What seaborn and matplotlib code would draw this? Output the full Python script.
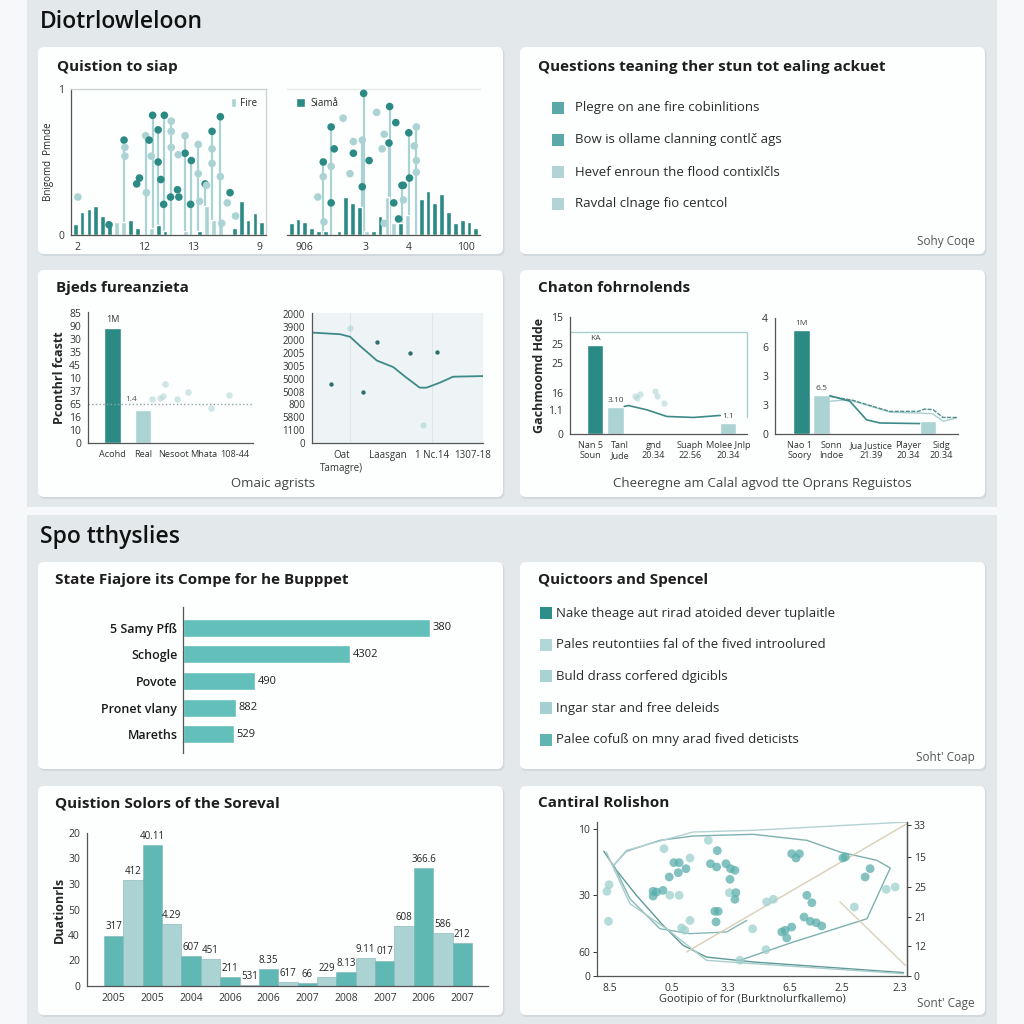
import numpy as np
import pandas as pd
import seaborn as sns
import matplotlib.pyplot as plt
from matplotlib.patches import FancyBboxPatch, Rectangle

sns.set_style("white")
plt.rcParams['font.family'] = ['Open Sans', 'DejaVu Sans']

W = H = 1024
DARK = '#2b8a84'
MID = '#5fb8b4'
LIGHT = '#acd3d4'
INK = '#1e1e1e'
TONES = {'d': DARK, 'l': LIGHT}

# ---------------- data ----------------
# panel 1 : bars + lollipops (left / right)
p1_left_bars = [0.075, 0.16, 0.18, 0.2, 0.13, 0.08, 0.09, 0.09, 0.10, 0.045, 0.0, 0.05, 0.07, 0.03,
                0.0, 0.0, 0.03, 0.0, 0.03, 0.20, 0.10, 0.08, 0.0, 0.045, 0.23, 0.10, 0.15, 0.09]
p1_left_tone = list('ddddddlldddlddddlddllldddddd')
p1_left_stem_x = [7.07, 10.2, 11.2, 12.0, 12.9, 13.9, 15.9, 16.8, 17.8, 18.8, 19.8, 21.0]
p1_left_stem_y = [0.65, 0.68, 0.82, 0.72, 0.82, 0.78, 0.68, 0.51, 0.62, 0.35, 0.71, 0.81]
p1_left_stem_tone = list('dldddlldldd') + ['d']
p1_left_dot_x = [0.4, 4.9, 8.9, 9.3, 10.3, 10.7, 12.0, 12.4, 12.8, 13.8, 14.8, 15.0, 15.9, 16.7, 22.4,
                 22.0, 23.2, 7.2, 7.2, 14.9, 19.0, 19.8, 19.8, 21.0, 11.0, 21.2, 13.9, 13.9, 17.8, 18.0]
p1_left_dot_y = [0.26, 0.07, 0.35, 0.39, 0.29, 0.65, 0.50, 0.38, 0.21, 0.26, 0.31, 0.26, 0.56, 0.21, 0.29,
                 0.22, 0.13, 0.60, 0.54, 0.55, 0.34, 0.59, 0.49, 0.40, 0.54, 0.08, 0.71, 0.60, 0.42, 0.23]
p1_left_dot_tone = list('ldddlddddddddddll') + list('lllllllllllll')
p1_left_ticks = ['2', '12', '13', '9']

p1_right_bars = [0.08, 0.11, 0.09, 0.05, 0.03, 0.03, 0.0, 0.03, 0.26, 0.22, 0.19, 0.03, 0.03, 0.13,
                 0.26, 0.08, 0.08, 0.14, 0.0, 0.25, 0.30, 0.22, 0.28, 0.16, 0.08, 0.10, 0.09, 0.05]
p1_right_tone = list('dddddddddddlddlldldddddddddd')
p1_right_stem_x = [4.7, 5.85, 10.6, 14.4, 17.2, 18.3, 14.3, 16.2, 10.4]
p1_right_stem_y = [0.50, 0.74, 0.97, 0.88, 0.70, 0.74, 0.63, 0.34, 0.65]
p1_right_stem_tone = list('dddddlddl')
p1_right_dot_x = [6.3, 5.85, 9.1, 11.4, 10.4, 15.3, 17.3, 15.7, 15.0, 16.4, 3.9, 7.6, 12.5, 13.6, 13.3,
                  8.6, 4.7, 5.85, 18.0, 18.3, 18.3, 13.6, 4.8, 9.1, 16.4]
p1_right_dot_y = [0.59, 0.22, 0.56, 0.51, 0.33, 0.77, 0.39, 0.11, 0.22, 0.34, 0.26, 0.80, 0.84, 0.69, 0.59,
                  0.42, 0.40, 0.47, 0.61, 0.51, 0.43, 0.08, 0.09, 0.64, 0.24]
p1_right_dot_tone = list('dddddddddd') + list('lllllllllllllll')
p1_right_ticks = ['906', '3', '4', '100']

# panel 2 : list
p2_items = ['Plegre on ane fire cobinlitions', 'Bow is ollame clanning contlč ags',
            'Hevef enroun the flood contixlčls', 'Ravdal clnage fio centcol']
p2_colors = ['#5aa8a7', '#5aa8a7', '#b3d4d6', '#b3d4d6']

# panel 3 : bar + line
p3_cats = ['Acohd', 'Real', 'Nesoot', 'Mhata', '108-44']
p3_vals = [8.87, 2.56, 0, 0, 0]
p3_ytick_labels = ['0', '10', '16', '65', '37', '10', '45', '35', '30', '90', '85']
p3_faint_x = [1.72, 1.56, 2.1, 2.48, 3.22, 3.8, 1.29, 1.65]
p3_faint_y = [4.56, 3.5, 3.4, 3.9, 2.7, 3.7, 3.4, 3.6]
p3_line_x = [0, 1.65, 2.23, 2.8, 3.8, 4.75, 5.5, 6.3, 6.7, 7.5, 8.25, 10]
p3_line_y = [8.58, 8.45, 8.25, 7.55, 6.4, 5.9, 5.1, 4.3, 4.3, 4.7, 5.15, 5.2]
p3_dot_x = [1.13, 2.97, 3.83, 5.73, 7.3]
p3_dot_y = [4.6, 4.0, 7.86, 7.0, 7.1]
p3_ytick2_labels = ['0', '1100', '5800', '800', '5008', '5000', '3005', '2005', '2000', '3900', '2000']
p3_xtick2_labels = ['Oat\nTamagre)', 'Laasgan', '1 Nc.14', '1307-18']

# panel 4 : bars + lines
p4a_bar_x = [1.42, 2.58, 8.92]
p4a_bar_y = [11.4, 3.44, 1.4]
p4a_bar_lab = ['KA', '3.10', '1.1']
p4a_line_x = [3.06, 3.3, 4.34, 5.47, 6.98, 8.49]
p4a_line_y = [3.53, 3.65, 3.1, 2.25, 2.12, 2.38]
p4a_faint_x = [3.68, 3.96, 4.8, 4.9, 5.3, 3.8]
p4a_faint_y = [4.9, 5.1, 5.55, 4.9, 4.0, 4.6]
p4a_xlabels = ['Nan 5\nSoun', 'Tanl\nJude', 'gnd\n20.34', 'Suaph\n22.56', 'Molee Jnlp\n20.34']
p4a_ytick_labels = ['0', '1.1', '16', '25', '25', '15']

p4b_bar_x = [1.45, 2.55, 8.36]
p4b_bar_y = [3.6, 1.36, 0.44]
p4b_bar_lab = ['1M', '6.5', '']
p4b_line1_x = [3.0, 4.09, 5.0, 5.73, 7.9]
p4b_line1_y = [1.32, 1.13, 0.49, 0.38, 0.36]
p4b_line2_x = [3.0, 4.27, 5.36, 6.27, 7.82, 8.18, 8.64, 9.18, 10]
p4b_line2_y = [1.3, 1.16, 0.95, 0.78, 0.78, 0.86, 0.84, 0.57, 0.57]
p4b_line3_x = [3.0, 4.0, 5.0, 6.3, 7.9, 8.6, 9.2, 9.9]
p4b_line3_y = [1.13, 1.18, 1.0, 0.75, 0.72, 0.70, 0.44, 0.55]
p4b_xlabels = ['Nao 1\nSoory', 'Sonn\nIndoe', 'Jua Justice\n21.39', 'Player\n20.34', 'Sidg\n20.34']
p4b_ytick_labels = ['0', '3', '3', '6', '4']

# panel 5 : horizontal bars
p5_names = ['5 Samy Pfß', 'Schogle', 'Povote', 'Pronet vlany', 'Mareths']
p5_vals = [380, 257, 111, 82, 78]
p5_labels = ['380', '4302', '490', '882', '529']

# panel 6 : list
p6_items = ['Nake theage aut rirad atoided dever tuplaitle', 'Pales reutontiies fal of the fived introolured',
            'Buld drass corfered dgicibls', 'Ingar star and free deleids', 'Palee cofuß on mny arad fived deticists']
p6_colors = ['#2e8f8a', '#b3d6d8', '#a9d2d2', '#a5cfd0', '#5fb5b2']

# panel 7 : column bars
p7_vals = [1.98, 4.17, 5.53, 2.42, 1.19, 1.06, 0.34, 0.04, 0.67, 0.14, 0.12, 0.34, 0.56, 1.11, 1.0,
           2.36, 4.63, 2.06, 1.69]
p7_labels = ['317', '412', '40.11', '4.29', '607', '451', '211', '531', '8.35', '617', '66', '229',
             '8.13', '9.11', '017', '608', '366.6', '586', '212']
p7_years = ['2005', '2005', '2004', '2006', '2006', '2007', '2008', '2007', '2006', '2007']
p7_ytick_labels = ['0', '20', '40', '50', '30', '30', '20']

# panel 8 : scatter with outlines
p8_x = [3.9, 3.2, 3.7, 21.6, 24.8, 26.5, 28.7, 30.0, 23.3, 26.2, 18.1, 18.1, 19.2, 21.3, 23.5, 26.5, 27.3,
        28.3, 30.0, 35.9, 38.8, 36.6, 38.6, 41.6, 43.1, 44.5, 42.9, 42.7, 44.5, 44.8, 38.0, 38.4, 39.1,
        50.2, 54.7, 56.9, 62.8, 65.3, 64.2, 67.7, 69.3, 66.8, 68.8, 70.7, 72.5, 60.7, 62.8, 61.2, 59.6,
        79.3, 80.1, 83.0, 86.5, 88.1, 93.3, 96.2, 46.1, 54.5]
p8_y = [59.3, 55.0, 35.5, 82.7, 73.6, 73.6, 69.7, 76.6, 64.3, 67.1, 55.0, 51.9, 54.5, 55.6, 52.4, 52.4, 31.2,
        29.7, 36.1, 88.1, 81.4, 72.9, 70.8, 72.9, 69.7, 68.6, 62.8, 54.1, 49.8, 54.1, 42.0, 35.1, 42.0,
        30.7, 48.1, 49.8, 79.4, 79.4, 76.6, 52.4, 47.6, 38.3, 35.5, 34.6, 32.5, 29.7, 31.8, 24.7, 28.6,
        76.6, 77.3, 44.8, 64.3, 69.7, 56.3, 57.8, 10.2, 17.1]
p8_tone = list('lll' 'ldddlddddddlll' 'llldddddddlddddd' 'lll' 'ddddddddddddd' 'ddlddll' 'll')
p8_lines = {
    '#5e9a98': ([2.2, 6.3, 12.7, 21.3, 27.8, 35.3, 50.4, 98.9], [81, 68.6, 52.4, 32.9, 19.9, 12.3, 9.1, 2.2]),
    '#7fb0b0': ([5.4, 9.5, 20.3, 31, 50.4, 67.7, 78.4, 90.3, 94.6, 87.1, 63.4, 46.1],
                [71.9, 81, 88.1, 90.9, 92, 88.1, 80.5, 75.1, 70.1, 37.2, 22.1, 10.2]),
    '#86b8b6': ([5.4, 10.6, 20.3, 30, 41.8, 48.3], [71.9, 50.2, 30.7, 27.5, 28.6, 36.1]),
    '#b5d2d2': ([5.4, 9.5, 31, 50.4, 100], [71.9, 81.6, 93.5, 94.6, 100]),
    '#a9cccb': ([3, 10.6, 22.4, 35.3, 50.4, 98.9], [80.5, 47, 30.7, 10.2, 8, 1.5]),
    '#d8cfb5': ([28.9, 100], [15.6, 98.9]),
    '#d9d1ba': ([78.4, 99.5], [48.1, 6.9]),
}

# ---------------- figure ----------------
fig = plt.figure(figsize=(10.24, 10.24), dpi=100, facecolor='#f6f8f9')


def fbox(x0, y0, x1, y1, fc, r=6, z=-3):
    p = FancyBboxPatch((x0 / W, 1 - y1 / H), (x1 - x0) / W, (y1 - y0) / H,
                       boxstyle=f"round,pad=0,rounding_size={r / W}", transform=fig.transFigure,
                       fc=fc, ec='none', zorder=z)
    fig.patches.append(p)


def ftext(x, y, s, **kw):
    kw.setdefault('va', 'center')
    fig.text(x / W, 1 - y / H, s, **kw)


def add_ax(x0, y0, x1, y1):
    ax = fig.add_axes([x0 / W, 1 - y1 / H, (x1 - x0) / W, (y1 - y0) / H])
    ax.set_facecolor('none')
    return ax


def style(ax, left=True, bottom=True, top=False, right=False, size=7.5):
    for s, v in zip(['left', 'bottom', 'top', 'right'], [left, bottom, top, right]):
        ax.spines[s].set_visible(v)
        ax.spines[s].set_color('#555555')
        ax.spines[s].set_linewidth(0.9)
    ax.tick_params(labelsize=size, colors='#333333', length=3, width=0.7, pad=2)


fbox(27, 0, 997, 507, '#e3e9eb', r=0, z=-5)
fbox(27, 515, 997, 1024, '#e3e9eb', r=0, z=-5)
panels = [(38, 47, 503, 254), (520, 47, 985, 254), (38, 270, 503, 497), (520, 270, 985, 497),
          (38, 562, 503, 769), (520, 562, 985, 769), (38, 786, 503, 1015), (520, 786, 985, 1015)]
for (x0, y0, x1, y1) in panels:
    fbox(x0 + 1, y0 + 1, x1 + 1.5, y1 + 2, '#d2d9dc', z=-4)
    fbox(x0, y0, x1, y1, '#fdfefe', z=-3)

ftext(40, 22, 'Diotrlowleloon', fontsize=16.5, fontweight='semibold', color='#111111')
ftext(40, 537, 'Spo tthyslies', fontsize=16.5, fontweight='semibold', color='#111111')
TSIZE = 11

# ---- panel 1
ftext(57, 67, 'Quistion to siap', fontsize=TSIZE, fontweight='bold', color=INK)
slots = np.arange(28)
for (x0, x1, bars, tone, sx, sy, st, dx, dy, dt, tpos, tlab) in [
        (71, 266, p1_left_bars, p1_left_tone, p1_left_stem_x, p1_left_stem_y, p1_left_stem_tone,
         p1_left_dot_x, p1_left_dot_y, p1_left_dot_tone, [0.4, 10, 17.1, 26.6], p1_left_ticks),
        (287, 480, p1_right_bars, p1_right_tone, p1_right_stem_x, p1_right_stem_y, p1_right_stem_tone,
         p1_right_dot_x, p1_right_dot_y, p1_right_dot_tone, [1.9, 10.8, 17.2, 25.5], p1_right_ticks)]:
    ax = add_ax(x0, 89, x1, 235)
    df = pd.DataFrame({'slot': slots, 'h': bars, 'tone': tone})
    sns.barplot(data=df, x='slot', y='h', hue='tone', palette=TONES, dodge=False, width=0.7,
                saturation=1, legend=False, ax=ax, zorder=2)
    ax.vlines(sx, 0, sy, color=LIGHT, lw=1.6, zorder=1)
    sns.scatterplot(x=sx, y=sy, hue=st, palette=TONES, s=30, linewidth=0, legend=False, ax=ax, zorder=3)
    sns.scatterplot(x=dx, y=dy, hue=dt, palette=TONES, s=30, linewidth=0, legend=False, ax=ax, zorder=3)
    ax.set_xlim(-0.6, 27.6)
    ax.set_ylim(0, 1.0)
    ax.set_xticks(tpos, tlab)
    ax.set_xlabel('')
    ax.set_ylabel('')
    if x0 < 200:
        style(ax, top=True, right=True)
        ax.spines['top'].set_color('#c9d1d3')
        ax.spines['right'].set_color('#c9d1d3')
        ax.set_yticks([0, 0.33, 0.67, 1], ['0', '', '', '1'])
        ax.set_ylabel('Bnigomd  Pmnde', fontsize=7, labelpad=3)
        ax.legend(handles=[Rectangle((0, 0), 1, 1, fc=LIGHT)], labels=['Fire'], loc='upper right',
                  frameon=False, fontsize=7, handlelength=0.5, handleheight=1.0, handletextpad=0.4)
    else:
        style(ax, left=False, top=True)
        ax.spines['top'].set_color('#e3e8ea')
        ax.set_yticks([])
        ax.legend(handles=[Rectangle((0, 0), 1, 1, fc=DARK)], labels=['Siamå'], loc='upper left',
                  frameon=False, fontsize=7, handlelength=1.0, handleheight=1.0, handletextpad=0.5)

# ---- panel 2
ftext(538, 67, 'Questions teaning ther stun tot ealing ackuet', fontsize=TSIZE, fontweight='bold', color=INK)
for i, (txt, c) in enumerate(zip(p2_items, p2_colors)):
    y = 108 + i * 32
    fig.patches.append(Rectangle((552 / W, 1 - (y + 6) / H), 12 / W, 12 / H, transform=fig.transFigure,
                                 fc=c, ec='none'))
    ftext(575, y, txt, fontsize=9.5, color='#2a2a2a')
ftext(975, 242, 'Sohy Coqe', fontsize=8.5, color='#555555', ha='right')

# ---- panel 3
ftext(56, 288, 'Bjeds fureanzieta', fontsize=TSIZE, fontweight='bold', color=INK)
ax = add_ax(88, 312, 253, 443)
sns.barplot(x=p3_cats, y=p3_vals, hue=p3_cats, palette=[DARK, LIGHT, LIGHT, LIGHT, LIGHT],
            width=0.55, saturation=1, legend=False, ax=ax, zorder=2)
ax.axhline(3.0, ls=':', color='#8fa5a8', lw=1)
sns.scatterplot(x=p3_faint_x, y=p3_faint_y, color=LIGHT, alpha=0.55, s=22, linewidth=0, ax=ax)
ax.text(0, 9.15, '1M', ha='center', va='bottom', fontsize=6.5, color='#333')
ax.text(0.6, 3.05, '1.4', ha='center', va='bottom', fontsize=6, color='#555')
ax.set_xlim(-0.8, 4.6)
ax.set_ylim(0, 10.1)
ax.set_yticks(range(11), p3_ytick_labels)
ax.set_xticks(np.arange(-0.5, 4.6, 0.5), minor=True)
ax.set_ylabel('Pconthrl fcastt', fontsize=9, fontweight='bold', labelpad=2)
style(ax)
ax.tick_params(axis='x', labelsize=6.6)
ax.tick_params(which='minor', length=3, width=0.6, colors='#555555')

ax = add_ax(312, 313, 483, 443)
ax.set_facecolor('#eef4f6')
for gx in [2.23, 7.0]:
    ax.axvline(gx, color='#dde7ea', lw=0.8, zorder=0)
sns.lineplot(x=p3_line_x, y=p3_line_y, color='#3d8a88', lw=1.3, ax=ax)
sns.scatterplot(x=p3_dot_x, y=p3_dot_y, color='#2c6f6c', s=10, linewidth=0, ax=ax, zorder=3)
sns.scatterplot(x=[2.23, 6.5], y=[8.97, 1.37], color=LIGHT, alpha=0.6, s=20, linewidth=0, ax=ax)
ax.set_xlim(0, 10)
ax.set_ylim(0, 10.1)
ax.set_yticks(range(11), p3_ytick2_labels)
ax.set_xticks([1.75, 4.45, 7.0, 9.4], p3_xtick2_labels)
ax.set_xticks(np.arange(0.5, 10, 0.8), minor=True)
style(ax, size=7)
ax.tick_params(which='minor', length=3, width=0.6, colors='#555555')
ftext(273, 483, 'Omaic agrists', fontsize=9.5, color='#444444', ha='center')

# ---- panel 4
ftext(538, 288, 'Chaton fohrnolends', fontsize=TSIZE, fontweight='bold', color=INK)
ax = add_ax(570, 317, 747, 434)
ax.bar(p4a_bar_x, p4a_bar_y, width=0.94, color=[DARK, LIGHT, LIGHT], zorder=2)
for bx, by, bl in zip(p4a_bar_x, p4a_bar_y, p4a_bar_lab):
    ax.text(bx, by + 0.35, bl, ha='center', va='bottom', fontsize=6, color='#444')
sns.lineplot(x=p4a_line_x, y=p4a_line_y, color='#3d8a88', lw=1.2, ax=ax)
sns.scatterplot(x=p4a_faint_x, y=p4a_faint_y, color=LIGHT, alpha=0.55, s=20, linewidth=0, ax=ax)
ax.plot([0, 10, 10], [13.1, 13.1, 2.2], color='#a9cfcf', lw=1, clip_on=False)
ax.set_xlim(0, 10)
ax.set_ylim(0, 15)
ax.set_yticks([0, 3.1, 5.2, 9.05, 11.5, 15], p4a_ytick_labels)
ax.set_xticks([1.13, 2.83, 4.72, 6.79, 8.96], p4a_xlabels)
ax.set_ylabel('Gachmoomd Hdde', fontsize=9, fontweight='bold', labelpad=2)
style(ax, size=7.5)
ax.tick_params(axis='x', labelsize=6.6)

ax = add_ax(775, 318, 958, 434)
ax.bar(p4b_bar_x, p4b_bar_y, width=0.92, color=[DARK, LIGHT, LIGHT], zorder=2)
for bx, by, bl in zip(p4b_bar_x, p4b_bar_y, p4b_bar_lab):
    ax.text(bx, by + 0.08, bl, ha='center', va='bottom', fontsize=6, color='#444')
sns.lineplot(x=p4b_line3_x, y=p4b_line3_y, color='#a9cfcf', lw=1.0, ax=ax)
sns.lineplot(x=p4b_line2_x, y=p4b_line2_y, color='#4f8f8d', lw=1.0, ls=(0, (3, 1)), ax=ax)
sns.lineplot(x=p4b_line1_x, y=p4b_line1_y, color='#3d8a88', lw=1.2, ax=ax)
ax.set_xlim(0, 10)
ax.set_ylim(0, 4)
ax.set_yticks(range(5), p4b_ytick_labels)
ax.set_xticks([1.33, 3.09, 5.27, 7.27, 9.09], p4b_xlabels)
style(ax, size=7.5)
ax.tick_params(axis='x', labelsize=6.6)
ftext(762, 483, 'Cheeregne am Calal agvod tte Oprans Reguistos', fontsize=9.5, color='#444444', ha='center')

# ---- panel 5
ftext(55, 580, 'State Fiajore its Compe for he Bupppet', fontsize=TSIZE, fontweight='bold', color=INK)
ax = add_ax(183, 607, 480, 753)
sns.barplot(x=p5_vals, y=p5_names, color='#62bfba', orient='h', width=0.67, saturation=1, ax=ax)
for i, (v, lab) in enumerate(zip(p5_vals, p5_labels)):
    ax.text(v + 4, i, lab, va='center', ha='left', fontsize=8, color='#222')
ax.set_xlim(0, 457)
ax.set_ylim(4.7, -0.78)
ax.set_xticks([])
ax.set_xlabel('')
style(ax, bottom=False, size=9)
ax.tick_params(axis='y', length=0, pad=4)
for t in ax.get_yticklabels():
    t.set_fontweight('semibold')
    t.set_color('#1a1a1a')

# ---- panel 6
ftext(538, 580, 'Quictoors and Spencel', fontsize=TSIZE, fontweight='bold', color=INK)
for i, (txt, c) in enumerate(zip(p6_items, p6_colors)):
    y = 613 + i * 31.7
    fig.patches.append(Rectangle((540 / W, 1 - (y + 6) / H), 12 / W, 12 / H, transform=fig.transFigure,
                                 fc=c, ec='none'))
    ftext(556, y, txt, fontsize=9.5, color='#2a2a2a')
ftext(975, 758, "Soht' Coap", fontsize=8.5, color='#555555', ha='right')

# ---- panel 7
ftext(55, 803, 'Quistion Solors of the Soreval', fontsize=TSIZE, fontweight='bold', color=INK)
ax = add_ax(87, 833, 488, 986)
idx = [str(i) for i in range(len(p7_vals))]
pal7 = [MID if i % 2 == 0 else LIGHT for i in range(len(p7_vals))]
sns.barplot(x=idx, y=p7_vals, hue=idx, palette=pal7, width=1.0, saturation=1, legend=False,
            edgecolor='#7fb3b2', linewidth=0.4, ax=ax)
for i, (v, lab) in enumerate(zip(p7_vals, p7_labels)):
    ax.text(i, v + 0.12, lab, ha='center', va='bottom', fontsize=7, color='#222')
ax.set_xlim(-1.38, 19.33)
ax.set_ylim(0, 6)
ax.set_yticks(range(7), p7_ytick_labels)
ax.set_xticks(range(0, 19, 2), p7_years)
ax.set_ylabel('Duationrls', fontsize=9, fontweight='bold', labelpad=2)
style(ax, size=7.5)
ax.tick_params(axis='x', length=0, pad=5)

# ---- panel 8
ftext(538, 803, 'Cantiral Rolishon', fontsize=TSIZE, fontweight='bold', color=INK)
ax = add_ax(597, 822, 907, 976)
for c, (lx, ly) in p8_lines.items():
    ax.plot(lx, ly, color=c, lw=1.0, zorder=1)
sns.scatterplot(x=p8_x, y=p8_y, hue=p8_tone, palette={'d': '#5aaeab', 'l': '#9fd1cf'},
                s=40, alpha=0.75, linewidth=0, legend=False, ax=ax, zorder=2)
ax.set_xlim(0, 100)
ax.set_ylim(0, 100)
ax.set_yticks([0, 15.6, 52.4, 95.7], ['0', '60', '30', '10'])
ax.set_xticks([4.1, 24, 42.3, 62.3, 79, 97.8], ['8.5', '0.5', '3.3', '6.5', '2.5', '2.3'])
ax.set_xlabel('Gootipio of for (Burktnolurfkallemo)', fontsize=8, color='#333', labelpad=0)
style(ax, right=True, size=7.5)
axr = ax.twinx()
axr.set_ylim(0, 100)
axr.set_yticks([0, 19.3, 38.3, 57.8, 77.3, 97.8], ['0', '12', '21', '25', '15', '33'])
style(axr, left=False, bottom=False, right=True, size=7.5)
ftext(975, 1003, "Sont' Cage", fontsize=8.5, color='#555555', ha='right')

fig.savefig('out.png', dpi=100, facecolor=fig.get_facecolor())
